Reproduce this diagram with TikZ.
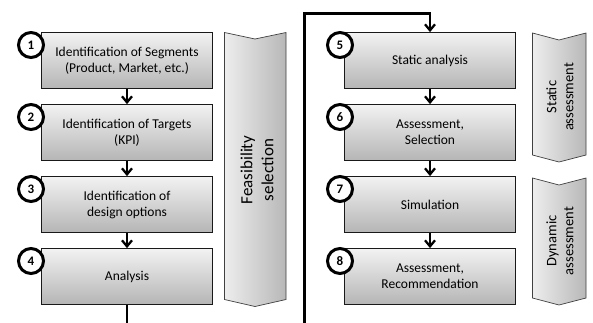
\documentclass[tikz,border=0pt]{standalone}
\usepackage{fontspec}
\setmainfont{Carlito}
\usetikzlibrary{arrows.meta,positioning,calc}
\tikzset{
  box/.style={draw=black!90, line width=0.8pt, top color=black!5, bottom color=black!29,
    minimum width=171pt, minimum height=56pt, align=center, inner sep=2pt,
    font=\fontsize{13.5}{16}\selectfont, text=black},
  num/.style={circle, draw=black, line width=3pt, fill=white, minimum size=25pt, inner sep=0pt,
    font=\fontsize{13}{13}\selectfont\bfseries},
  conn/.style={line width=2.3pt, black},
  arr/.style={conn, -{Straight Barb[length=6pt,width=10pt,line width=2.3pt]}},
  chev/.style={draw=black!75, line width=0.7pt, left color=black!7, right color=black!28},
  chevtext/.style={rotate=90, align=center, text=black}
}
\begin{document}
\begin{tikzpicture}[x=1pt,y=-1pt]
\useasboundingbox (0,0) rectangle (593,322);
% left column
\node[box] (b1) at (127,60.5) {Identification of Segments\\(Product, Market, etc.)};
\node[box] (b2) at (127,132.5) {Identification of Targets\\(KPI)};
\node[box] (b3) at (127,204.5) {Identification of\\design options};
\node[box] (b4) at (127,276.5) {Analysis};
% right column
\node[box] (b5) at (430,60.5) {Static analysis};
\node[box] (b6) at (430,132.5) {Assessment,\\Selection};
\node[box] (b7) at (430,204.5) {Simulation};
\node[box] (b8) at (430,276.5) {Assessment,\\Recommendation};
% numbers
\node[num] (n1) at (31,45) {1};
\node[num] (n2) at (31,117) {2};
\node[num] (n3) at (31,189) {3};
\node[num] (n4) at (31,261) {4};
\node[num] (n5) at (340,45) {5};
\node[num] (n6) at (340,117) {6};
\node[num] (n7) at (340,189) {7};
\node[num] (n8) at (340,261) {8};
% connectors
\draw[arr] (b1.south) -- (b2.north);
\draw[arr] (b2.south) -- (b3.north);
\draw[arr] (b3.south) -- (b4.north);
\draw[arr] (b5.south) -- (b6.north);
\draw[arr] (b6.south) -- (b7.north);
\draw[arr] (b7.south) -- (b8.north);
\coordinate (exitL) at (127,323);
\coordinate (exitR) at (304.5,323);
\coordinate (topR) at (430,13.5);
\draw[conn] (b4.south) -- (exitL);
\draw[arr] (exitR) |- (topR) -- (b5.north);
% chevrons
\draw[chev] (224.5,32.5) -- (255,39) -- (286,32.5) -- (286,299.5) -- (255,306.5) -- (224.5,299.5) -- cycle;
\node[chevtext, font=\fontsize{17}{21}\selectfont] (c1) at (257,170) {Feasibility\\selection};
\draw[chev] (532.5,33) -- (559,40) -- (586,33) -- (586,155) -- (559,162) -- (532.5,155) -- cycle;
\node[chevtext, font=\fontsize{14.5}{17}\selectfont] (c2) at (560,97) {Static\\assessment};
\draw[chev] (532.5,178) -- (559,185) -- (586,178) -- (586,298) -- (559,305) -- (532.5,298) -- cycle;
\node[chevtext, font=\fontsize{14.5}{17}\selectfont] (c3) at (560,241) {Dynamic\\assessment};
\end{tikzpicture}
\end{document}
